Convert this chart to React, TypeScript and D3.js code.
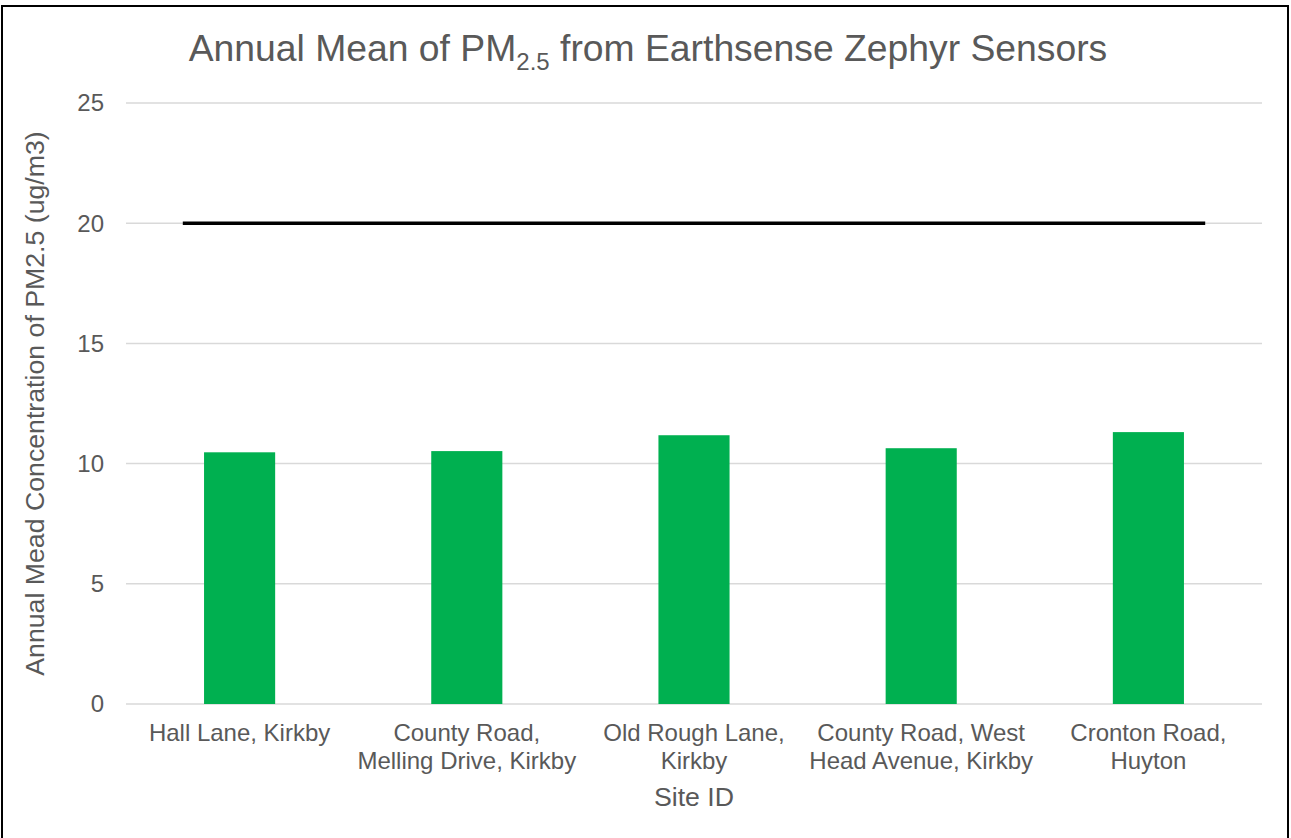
import React from 'react';
import * as d3 from 'd3';

// site labels (split in two lines like the original axis)
const sites = [
  ['Hall Lane, Kirkby'],
  ['County Road,', 'Melling Drive, Kirkby'],
  ['Old Rough Lane,', 'Kirkby'],
  ['County Road, West', 'Head Avenue, Kirkby'],
  ['Cronton Road,', 'Huyton'],
];
const annualMean = [10.47, 10.52, 11.18, 10.64, 11.31];
const objective = 20;
const yTicks = [0, 5, 10, 15, 20, 25];

const W = 1291;
const H = 838;
const margin = { top: 103, right: 29, bottom: 134, left: 126 };
const FONT = '"Liberation Sans", Arial, sans-serif';
const GREY = '#595959';

export default function App() {
  const iw = W - margin.left - margin.right;
  const ih = H - margin.top - margin.bottom;

  const idx = d3.range(sites.length);
  const x = d3.scaleBand<number>().domain(idx).range([0, iw]).paddingInner(0.687).paddingOuter(0.3435);
  // continuous version of the category axis, used for the objective line
  const xi = d3.scaleLinear().domain([-0.5, sites.length - 0.5]).range([0, iw]);
  const y = d3.scaleLinear().domain([0, 25]).range([ih, 0]);

  const line = d3.line<[number, number]>()
    .x(d => xi(d[0]))
    .y(d => y(d[1]));
  const objPts: [number, number][] = [[-0.25, objective], [sites.length - 0.75, objective]];

  return (
    <svg width={W} height={H} style={{ position: 'absolute', left: 0, top: 0, background: '#fff' }}>
      <rect x={2} y={6} width={1286} height={850} fill="#fff" stroke="#000" strokeWidth={2} />

      <text x={648} y={61} textAnchor="middle" fontFamily={FONT} fontSize={37.3} fill={GREY}>
        Annual Mean of PM
        <tspan fontSize={24} dy={9}>2.5</tspan>
        <tspan dy={-9}> from Earthsense Zephyr Sensors</tspan>
      </text>

      <g transform={`translate(${margin.left},${margin.top})`}>
        {yTicks.map(t => (
          <g key={t}>
            <line x1={0} x2={iw} y1={y(t)} y2={y(t)} stroke="#d9d9d9" strokeWidth={1.5} />
            <text x={-22} y={y(t)} dy="0.35em" textAnchor="end" fontFamily={FONT} fontSize={24} fill={GREY}>{t}</text>
          </g>
        ))}

        {annualMean.map((v, i) => (
          <rect key={i} x={x(i)} y={y(v)} width={x.bandwidth()} height={ih - y(v)} fill="#00b050" />
        ))}

        <path d={line(objPts) || ''} stroke="#000" strokeWidth={3.5} fill="none" />

        {sites.map((lines, i) => (
          <text key={i} textAnchor="middle" fontFamily={FONT} fontSize={24} fill={GREY}>
            {lines.map((s, j) => (
              <tspan key={j} x={(x(i) || 0) + x.bandwidth() / 2} y={ih + 37 + j * 28}>{s}</tspan>
            ))}
          </text>
        ))}

        <text x={iw / 2} y={ih + 102} textAnchor="middle" fontFamily={FONT} fontSize={26.7} fill={GREY}>Site ID</text>
      </g>

      <text transform={`translate(44,${margin.top + ih / 2}) rotate(-90)`} textAnchor="middle"
        fontFamily={FONT} fontSize={26.7} fill={GREY}>
        Annual Mead Concentration of PM2.5 (ug/m3)
      </text>
    </svg>
  );
}
